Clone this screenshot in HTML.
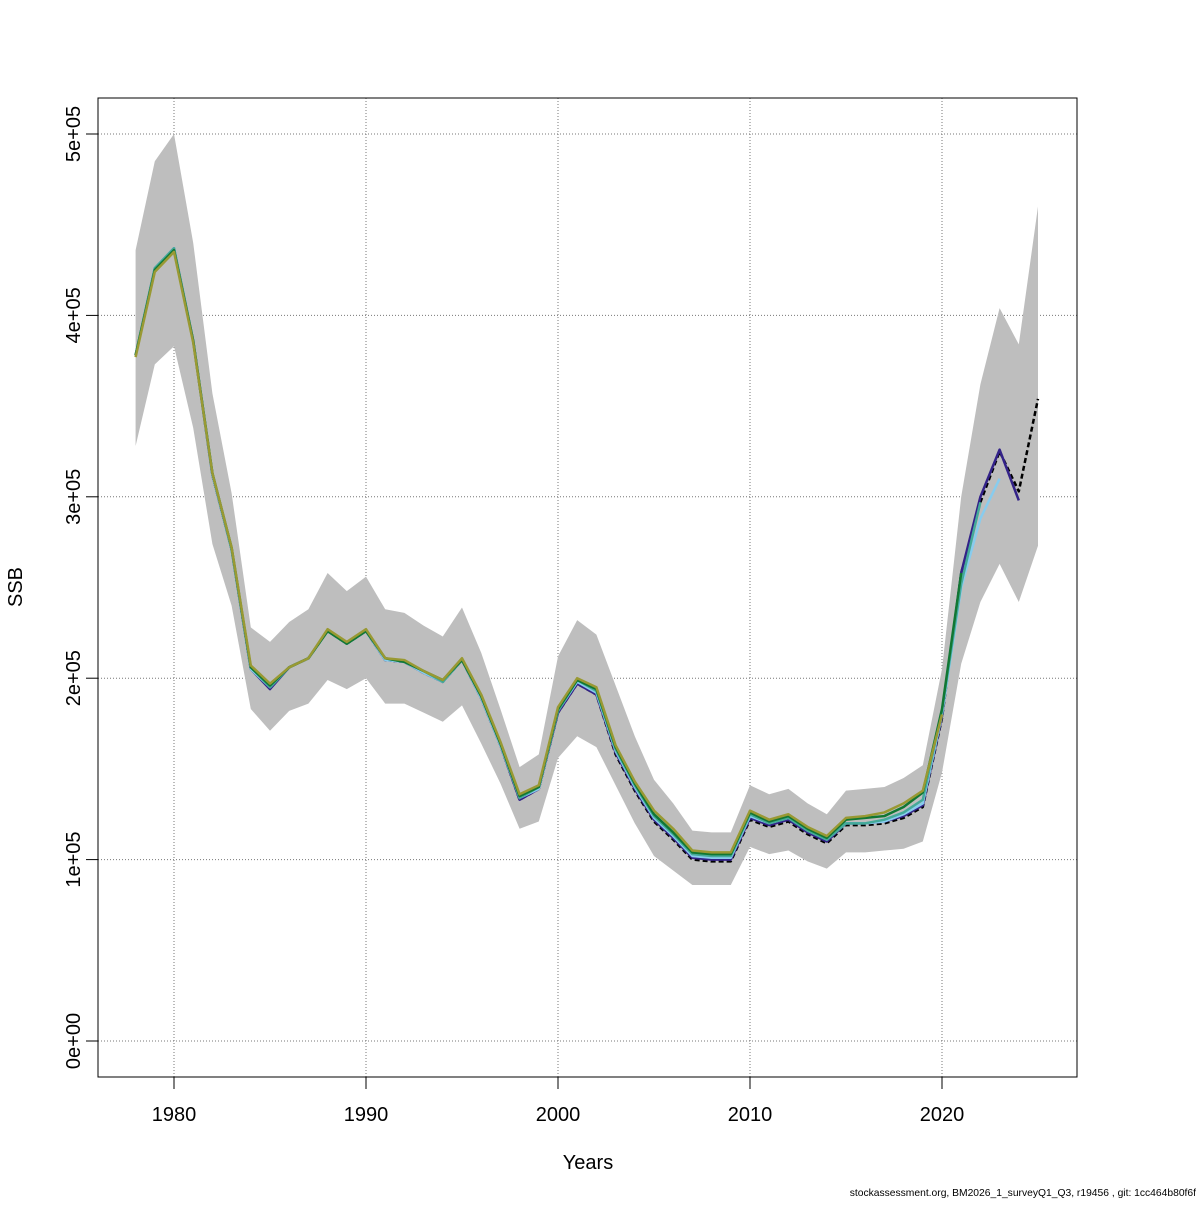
<!DOCTYPE html>
<html><head><meta charset="utf-8"><style>
body{margin:0;background:#fff}
svg text{font-family:"Liberation Sans",sans-serif;fill:#000}
</style></head><body>
<svg id="chart" width="1200" height="1200" viewBox="0 0 1200 1200" xmlns="http://www.w3.org/2000/svg">
<g id="grid"></g>
<g id="band"></g>
<g id="lines"></g>
<rect x="98" y="98" width="979" height="979" fill="none" stroke="#000" stroke-width="1"/>
<g id="axes"></g>
<text x="588" y="1169" font-size="20" text-anchor="middle">Years</text>
<text transform="translate(22,587) rotate(-90)" font-size="20" text-anchor="middle">SSB</text>
<text x="1196" y="1196" font-size="10.3" text-anchor="end">stockassessment.org, BM2026_1_surveyQ1_Q3, r19456 , git: 1cc464b80f6f</text>
</svg>
<script>
const years = [1978,1979,1980,1981,1982,1983,1984,1985,1986,1987,1988,1989,1990,1991,1992,1993,1994,1995,1996,1997,1998,1999,2000,2001,2002,2003,2004,2005,2006,2007,2008,2009,2010,2011,2012,2013,2014,2015,2016,2017,2018,2019,2020,2021,2022,2023,2024,2025];
const base = [378,425,436,386,312,271,205,195,206,211,226,219,226,210,209,203,198,210,189,163,133,139,181,197,191,158,138,121,111,100,99,99,122,118,121,114,109,119,119,120,123,129,178,258,297,325,303,354];
const upper = [436,485,500,440,357,302,228,220,231,238,258,248,256,238,236,229,223,239,214,183,151,158,212,232,224,196,168,144,131,116,115,115,141,136,139,131,125,138,139,140,145,152,205,300,362,404,384,460];
const lower = [328,373,383,338,274,240,183,171,182,186,199,194,200,186,186,181,176,185,164,142,117,121,156,168,162,141,120,102,94,86,86,86,107,103,105,99,95,104,104,105,106,110,148,208,242,263,242,273];
const peel1 = [378,426,437,386,312,271,205,194,206,211,226,219,226,210,209,203,198,210,189,163,133,139,181,197,191,159,139,122,112,101,100,100,123,119,122,115,110,120,120,121,124,130,179,258,300,326,298];
const peel2 = [378,426,437,386,312,271,205,195,206,211,226,219,226,210,209,203,198,210,189,163,134,139,182,198,192,160,140,123,113,102,101,101,124,120,123,116,111,120,120,121,125,131,180,250,288,310];
const peel3 = [378,426,437,386,313,271,206,195,206,211,226,219,226,211,209,204,198,210,190,164,134,140,182,199,193,161,141,124,114,103,102,102,125,120,123,116,111,120,120,122,126,133,182,252,297];
const peel4 = [378,425,436,386,313,272,206,196,206,211,226,219,226,211,209,204,199,210,190,164,135,140,183,199,194,162,142,125,115,104,103,103,126,121,124,117,112,122,123,124,129,137,183,258];
const peel5 = [377,424,435,385,313,272,207,197,206,211,227,220,227,211,210,204,199,211,191,165,136,141,184,200,195,163,143,127,117,105,104,104,127,122,125,118,113,123,124,126,131,138,180];
const xTicks = [1980,1990,2000,2010,2020];
const yTicks = [0,100,200,300,400,500];
const yTickLabels = ["0e+00","1e+05","2e+05","3e+05","4e+05","5e+05"];

const NS="http://www.w3.org/2000/svg";
function xs(y){return 174+(y-1980)*19.2;}
function ys(v){return 1041-v*1.814;}
function mk(tag,attrs,parent){const e=document.createElementNS(NS,tag);for(const k in attrs)e.setAttribute(k,attrs[k]);parent.appendChild(e);return e;}
const grid=document.getElementById('grid'),axes=document.getElementById('axes'),band=document.getElementById('band'),lines=document.getElementById('lines');
xTicks.forEach(t=>{
  const g=mk('line',{x1:xs(t),x2:xs(t),y1:98,y2:1077,stroke:'#777','stroke-dasharray':'1,2'},grid);
  
  
  const tk=mk('line',{x1:xs(t),x2:xs(t),y1:1077,y2:1089,stroke:'#000'},axes);
  
  
  const tx=mk('text',{x:xs(t),y:1121,'font-size':20,'text-anchor':'middle'},axes);
  tx.textContent=t;
  
  
});
yTicks.forEach((t,i)=>{
  const g=mk('line',{x1:98,x2:1077,y1:ys(t),y2:ys(t),stroke:'#777','stroke-dasharray':'1,2'},grid);
  
  
  const tk=mk('line',{x1:86,x2:98,y1:ys(t),y2:ys(t),stroke:'#000'},axes);
  
  
  const tx=mk('text',{transform:`translate(80,${ys(t)}) rotate(-90)`,'font-size':20,'text-anchor':'middle'},axes);
  tx.textContent=yTickLabels[i];
  
  
});
let pts=years.map((y,i)=>xs(y)+','+ys(upper[i]));
for(let i=years.length-1;i>=0;i--)pts.push(xs(years[i])+','+ys(lower[i]));
const poly=mk('polygon',{points:pts.join(' '),fill:'#bebebe',stroke:'none'},band);


function line(arr,color,dash,name){
  const p=arr.map((v,i)=>xs(years[i])+','+ys(v)).join(' ');
  const a={points:p,fill:'none',stroke:color,'stroke-width':2.5,'stroke-linejoin':'round'};
  if(dash)a['stroke-dasharray']=dash;
  const e=mk('polyline',a,lines);
  
  
}
line(base,'#000','5,3','ssb-base-line');
line(peel1,'#332288',null,'ssb-peel-1');
line(peel2,'#88ccee',null,'ssb-peel-2');
line(peel3,'#44aa99',null,'ssb-peel-3');
line(peel4,'#117733',null,'ssb-peel-4');
line(peel5,'#999933',null,'ssb-peel-5');
</script>
</body></html>
